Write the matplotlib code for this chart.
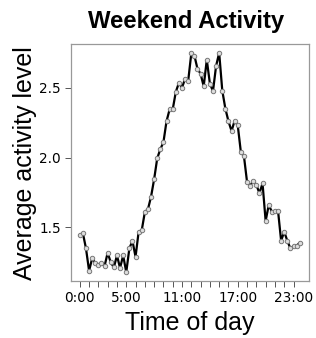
import matplotlib
matplotlib.use("Agg")
import matplotlib.pyplot as plt
import numpy as np

plt.rcParams['font.family'] = ['Liberation Sans', 'DejaVu Sans']

# 20-minute intervals, hours from 0:00 to 23:40
interval_minutes = 20
activity = [1.445, 1.459, 1.35, 1.19, 1.28, 1.245, 1.235, 1.247, 1.224, 1.32,
            1.25, 1.214, 1.30, 1.21, 1.30, 1.18, 1.35, 1.405, 1.29, 1.47,
            1.48, 1.61, 1.63, 1.72, 1.845, 1.995, 2.06, 2.11, 2.26, 2.345,
            2.345, 2.47, 2.535, 2.50, 2.565, 2.55, 2.745, 2.73, 2.635, 2.60,
            2.51, 2.70, 2.53, 2.475, 2.655, 2.75, 2.48, 2.35, 2.26, 2.19,
            2.265, 2.23, 2.04, 2.01, 1.826, 1.80, 1.83, 1.805, 1.745, 1.816,
            1.547, 1.66, 1.614, 1.62, 1.62, 1.405, 1.47, 1.405, 1.35, 1.365,
            1.37, 1.39]
hours = np.arange(len(activity)) * interval_minutes / 60.0

tick_hours = list(range(24))
label_hours = [0, 5, 11, 17, 23]
tick_labels = [f"{h}:00" if h in label_hours else "" for h in tick_hours]
y_ticks = [1.5, 2.0, 2.5]
y_tick_labels = ["1.5", "2.0", "2.5"]

W, H = 316, 338
fig = plt.figure(figsize=(W / 100, H / 100), dpi=100)
ax = fig.add_axes([71 / W, 1 - 281 / H, (308.5 - 71) / W, (281 - 44) / H])

ax.plot(hours, activity, color='black', lw=1.6, zorder=2)
ax.plot(hours, activity, ls='none', marker='o', ms=3.2, mfc='#dddddd',
        mec='#777777', mew=0.7, zorder=3)

rng = max(activity) - min(activity)
ax.set_ylim(min(activity) - 0.04 * rng, max(activity) + 0.04 * rng)
xr = hours[-1] - hours[0]
ax.set_xlim(hours[0] - 0.04 * xr, hours[-1] + 0.04 * xr)

tick_font = dict(family='DejaVu Sans', size=9.8)
ax.set_xticks(tick_hours)
ax.set_xticklabels(tick_labels, fontdict=tick_font)
ax.set_yticks(y_ticks)
ax.set_yticklabels(y_tick_labels, fontdict=tick_font)
ax.tick_params(axis='both', direction='out', length=4, width=0.7,
               color='#555555')
ax.tick_params(axis='x', pad=3.5)
ax.tick_params(axis='y', pad=3.2)
for s in ax.spines.values():
    s.set_color('#999999')
    s.set_linewidth(0.9)

fig.text(186.5 / W, 1 - 28.3 / H, "Weekend Activity", ha='center',
         va='baseline', fontsize=17.2, fontweight='bold')
fig.text(190 / W, 1 - 330 / H, "Time of day", ha='center', va='baseline',
         fontsize=18)
fig.text(32 / W, 1 - 163 / H, "Average activity level", ha='center',
         va='baseline', rotation=90, fontsize=18, rotation_mode='anchor')

fig.savefig("out.png", dpi=100)
